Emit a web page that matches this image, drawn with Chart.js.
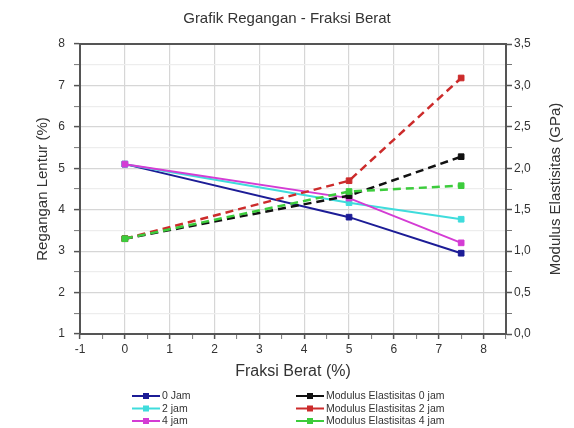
<!DOCTYPE html>
<html>
<head>
<meta charset="utf-8">
<script src="https://cdn.jsdelivr.net/npm/chart.js@4"></script>
<style>
  html, body { margin: 0; padding: 0; background: #ffffff; }
  #wrap { width: 574px; height: 428px; }
</style>
</head>
<body>
<div id="wrap"><canvas id="c" width="574" height="428"></canvas></div>
<script>
// ---- data ----
const fraksi = [0, 5, 7.5];
const regangan0 = [5.1, 3.82, 2.95];
const regangan2 = [5.1, 4.17, 3.77];
const regangan4 = [5.1, 4.28, 3.2];
const modulus0 = [1.15, 1.67, 2.14];
const modulus2 = [1.15, 1.85, 3.09];
const modulus4 = [1.15, 1.72, 1.79];
const seriesNames = ['0 Jam', '2 jam', '4 jam', 'Modulus Elastisitas 0 jam', 'Modulus Elastisitas 2 jam', 'Modulus Elastisitas 4 jam'];
const chartTitle = 'Grafik Regangan - Fraksi Berat';
const xTitle = 'Fraksi Berat (%)';
const yTitle = 'Regangan Lentur (%)';
const y2Title = 'Modulus Elastisitas (GPa)';

const colors = ['#1c1c96', '#3fdcdc', '#d43cd4', '#111111', '#cc2b2b', '#3ccc3c'];
const FONT = "'Liberation Sans', Arial, sans-serif";

function pts(ys) { return fraksi.map((x, i) => ({ x: x, y: ys[i] })); }

function solid(i, ys, order) {
  return {
    label: seriesNames[i], data: pts(ys), yAxisID: 'y', order: order,
    borderColor: colors[i], backgroundColor: colors[i], borderWidth: 2,
    pointStyle: 'rect', pointRadius: 4, pointBorderWidth: 1,
    pointBorderColor: colors[i], pointBackgroundColor: colors[i], tension: 0
  };
}
function dashed(i, ys, order) {
  return {
    label: seriesNames[i], data: pts(ys), yAxisID: 'y2', order: order,
    borderColor: colors[i], backgroundColor: colors[i], borderWidth: 2.5,
    borderDash: [8, 5],
    pointStyle: 'rect', pointRadius: 4, pointBorderWidth: 1,
    pointBorderColor: colors[i], pointBackgroundColor: colors[i], tension: 0
  };
}

const isInt = v => Math.abs(v - Math.round(v)) < 1e-6;
const isHalf = v => Math.abs(v * 2 - Math.round(v * 2)) < 1e-6;

const framePlugin = {
  id: 'frame',
  afterDraw(chart) {
    const { ctx, chartArea: a } = chart;
    ctx.save();
    ctx.strokeStyle = '#555555';
    ctx.lineWidth = 2;
    ctx.beginPath();
    ctx.moveTo(a.left, a.top);
    ctx.lineTo(a.right, a.top);
    ctx.stroke();
    // right axis title, reading bottom-to-top
    ctx.translate(556, (a.top + a.bottom) / 2);
    ctx.rotate(-Math.PI / 2);
    ctx.font = '15px ' + FONT;
    ctx.fillStyle = '#333333';
    ctx.textAlign = 'center';
    ctx.textBaseline = 'middle';
    ctx.fillText(y2Title, 0, 0);
    ctx.restore();
  }
};

const legendPlugin = {
  id: 'customLegend',
  afterDraw(chart) {
    const ctx = chart.ctx;
    const colX = [132, 296];
    const rowY = [396, 408.5, 421];
    ctx.save();
    ctx.font = '10.5px ' + FONT;
    ctx.textBaseline = 'middle';
    chart.data.datasets.forEach((ds) => {
      const idx = seriesNames.indexOf(ds.label);
      const cx = colX[Math.floor(idx / 3)];
      const cy = rowY[idx % 3];
      ctx.strokeStyle = ds.borderColor;
      ctx.lineWidth = 2;
      ctx.setLineDash([]);
      ctx.beginPath();
      ctx.moveTo(cx, cy);
      ctx.lineTo(cx + 28, cy);
      ctx.stroke();
      ctx.fillStyle = ds.borderColor;
      ctx.fillRect(cx + 11, cy - 3, 6, 6);
      ctx.fillStyle = '#333333';
      ctx.fillText(ds.label, cx + 30, cy + 0.5);
    });
    ctx.restore();
  }
};

new Chart(document.getElementById('c'), {
  type: 'line',
  data: {
    datasets: [
      dashed(5, modulus4, 0),
      dashed(4, modulus2, 1),
      dashed(3, modulus0, 2),
      solid(2, regangan4, 3),
      solid(1, regangan2, 4),
      solid(0, regangan0, 5)
    ]
  },
  options: {
    responsive: false,
    animation: false,
    devicePixelRatio: 1,
    layout: { padding: { left: 0, right: 0, top: 0, bottom: 44 } },
    plugins: {
      legend: { display: false },
      tooltip: { enabled: false },
      title: {
        display: true, text: chartTitle, color: '#333333',
        font: { family: FONT, size: 15, weight: 'normal' },
        padding: { top: 10, bottom: 16 }
      }
    },
    scales: {
      x: {
        type: 'linear', min: -1, max: 8.5,
        afterFit(s) { s.height = 50; },
        ticks: {
          stepSize: 0.5, autoSkip: false, maxRotation: 0, padding: 3,
          color: '#333333', font: { family: FONT, size: 12 },
          callback: v => (isInt(v) && v < 8.5 ? String(Math.round(v)) : '')
        },
        grid: {
          drawOnChartArea: true, tickLength: 5,
          color: c => (isInt(c.tick.value) && c.tick.value > -1 ? '#d6d6d6' : 'rgba(0,0,0,0)'),
          lineWidth: 1.2,
          tickColor: c => (isInt(c.tick.value) ? '#555555' : '#777777'),
          tickWidth: c => (isInt(c.tick.value) ? 1.5 : 1)
        },
        border: { display: true, color: '#555555', width: 2 },
        title: {
          display: true, text: xTitle, color: '#333333',
          font: { family: FONT, size: 16 }, padding: { top: 0, bottom: 3 }
        }
      },
      y: {
        type: 'linear', position: 'left', min: 1, max: 8,
        afterFit(s) { s.width = 80; },
        ticks: {
          stepSize: 0.5, autoSkip: false, padding: 9,
          color: '#333333', font: { family: FONT, size: 12 },
          callback: v => (isInt(v) ? String(Math.round(v)) : '')
        },
        grid: {
          tickLength: 6,
          color: c => (c.tick.value <= 1 || c.tick.value >= 8 ? 'rgba(0,0,0,0)' : (isInt(c.tick.value) ? '#d6d6d6' : '#ededed')),
          lineWidth: 1.2,
          tickColor: c => (isInt(c.tick.value) ? '#555555' : '#777777'),
          tickWidth: c => (isInt(c.tick.value) ? 1.5 : 1)
        },
        border: { display: true, color: '#555555', width: 2 },
        title: {
          display: true, text: yTitle, color: '#333333',
          font: { family: FONT, size: 15 }, padding: { top: 34, bottom: 0 }
        }
      },
      y2: {
        type: 'linear', position: 'right', min: 0, max: 3.5,
        afterFit(s) { s.width = 68; },
        ticks: {
          stepSize: 0.25, autoSkip: false, padding: 2,
          color: '#333333', font: { family: FONT, size: 12 },
          callback: v => (isHalf(v) ? v.toFixed(1).replace('.', ',') : '')
        },
        grid: {
          drawOnChartArea: false, tickLength: 6,
          tickColor: c => (isHalf(c.tick.value) ? '#555555' : '#777777'),
          tickWidth: c => (isHalf(c.tick.value) ? 1.5 : 1)
        },
        border: { display: true, color: '#555555', width: 2 },
        title: { display: false }
      }
    }
  },
  plugins: [framePlugin, legendPlugin]
});
</script>
</body>
</html>
